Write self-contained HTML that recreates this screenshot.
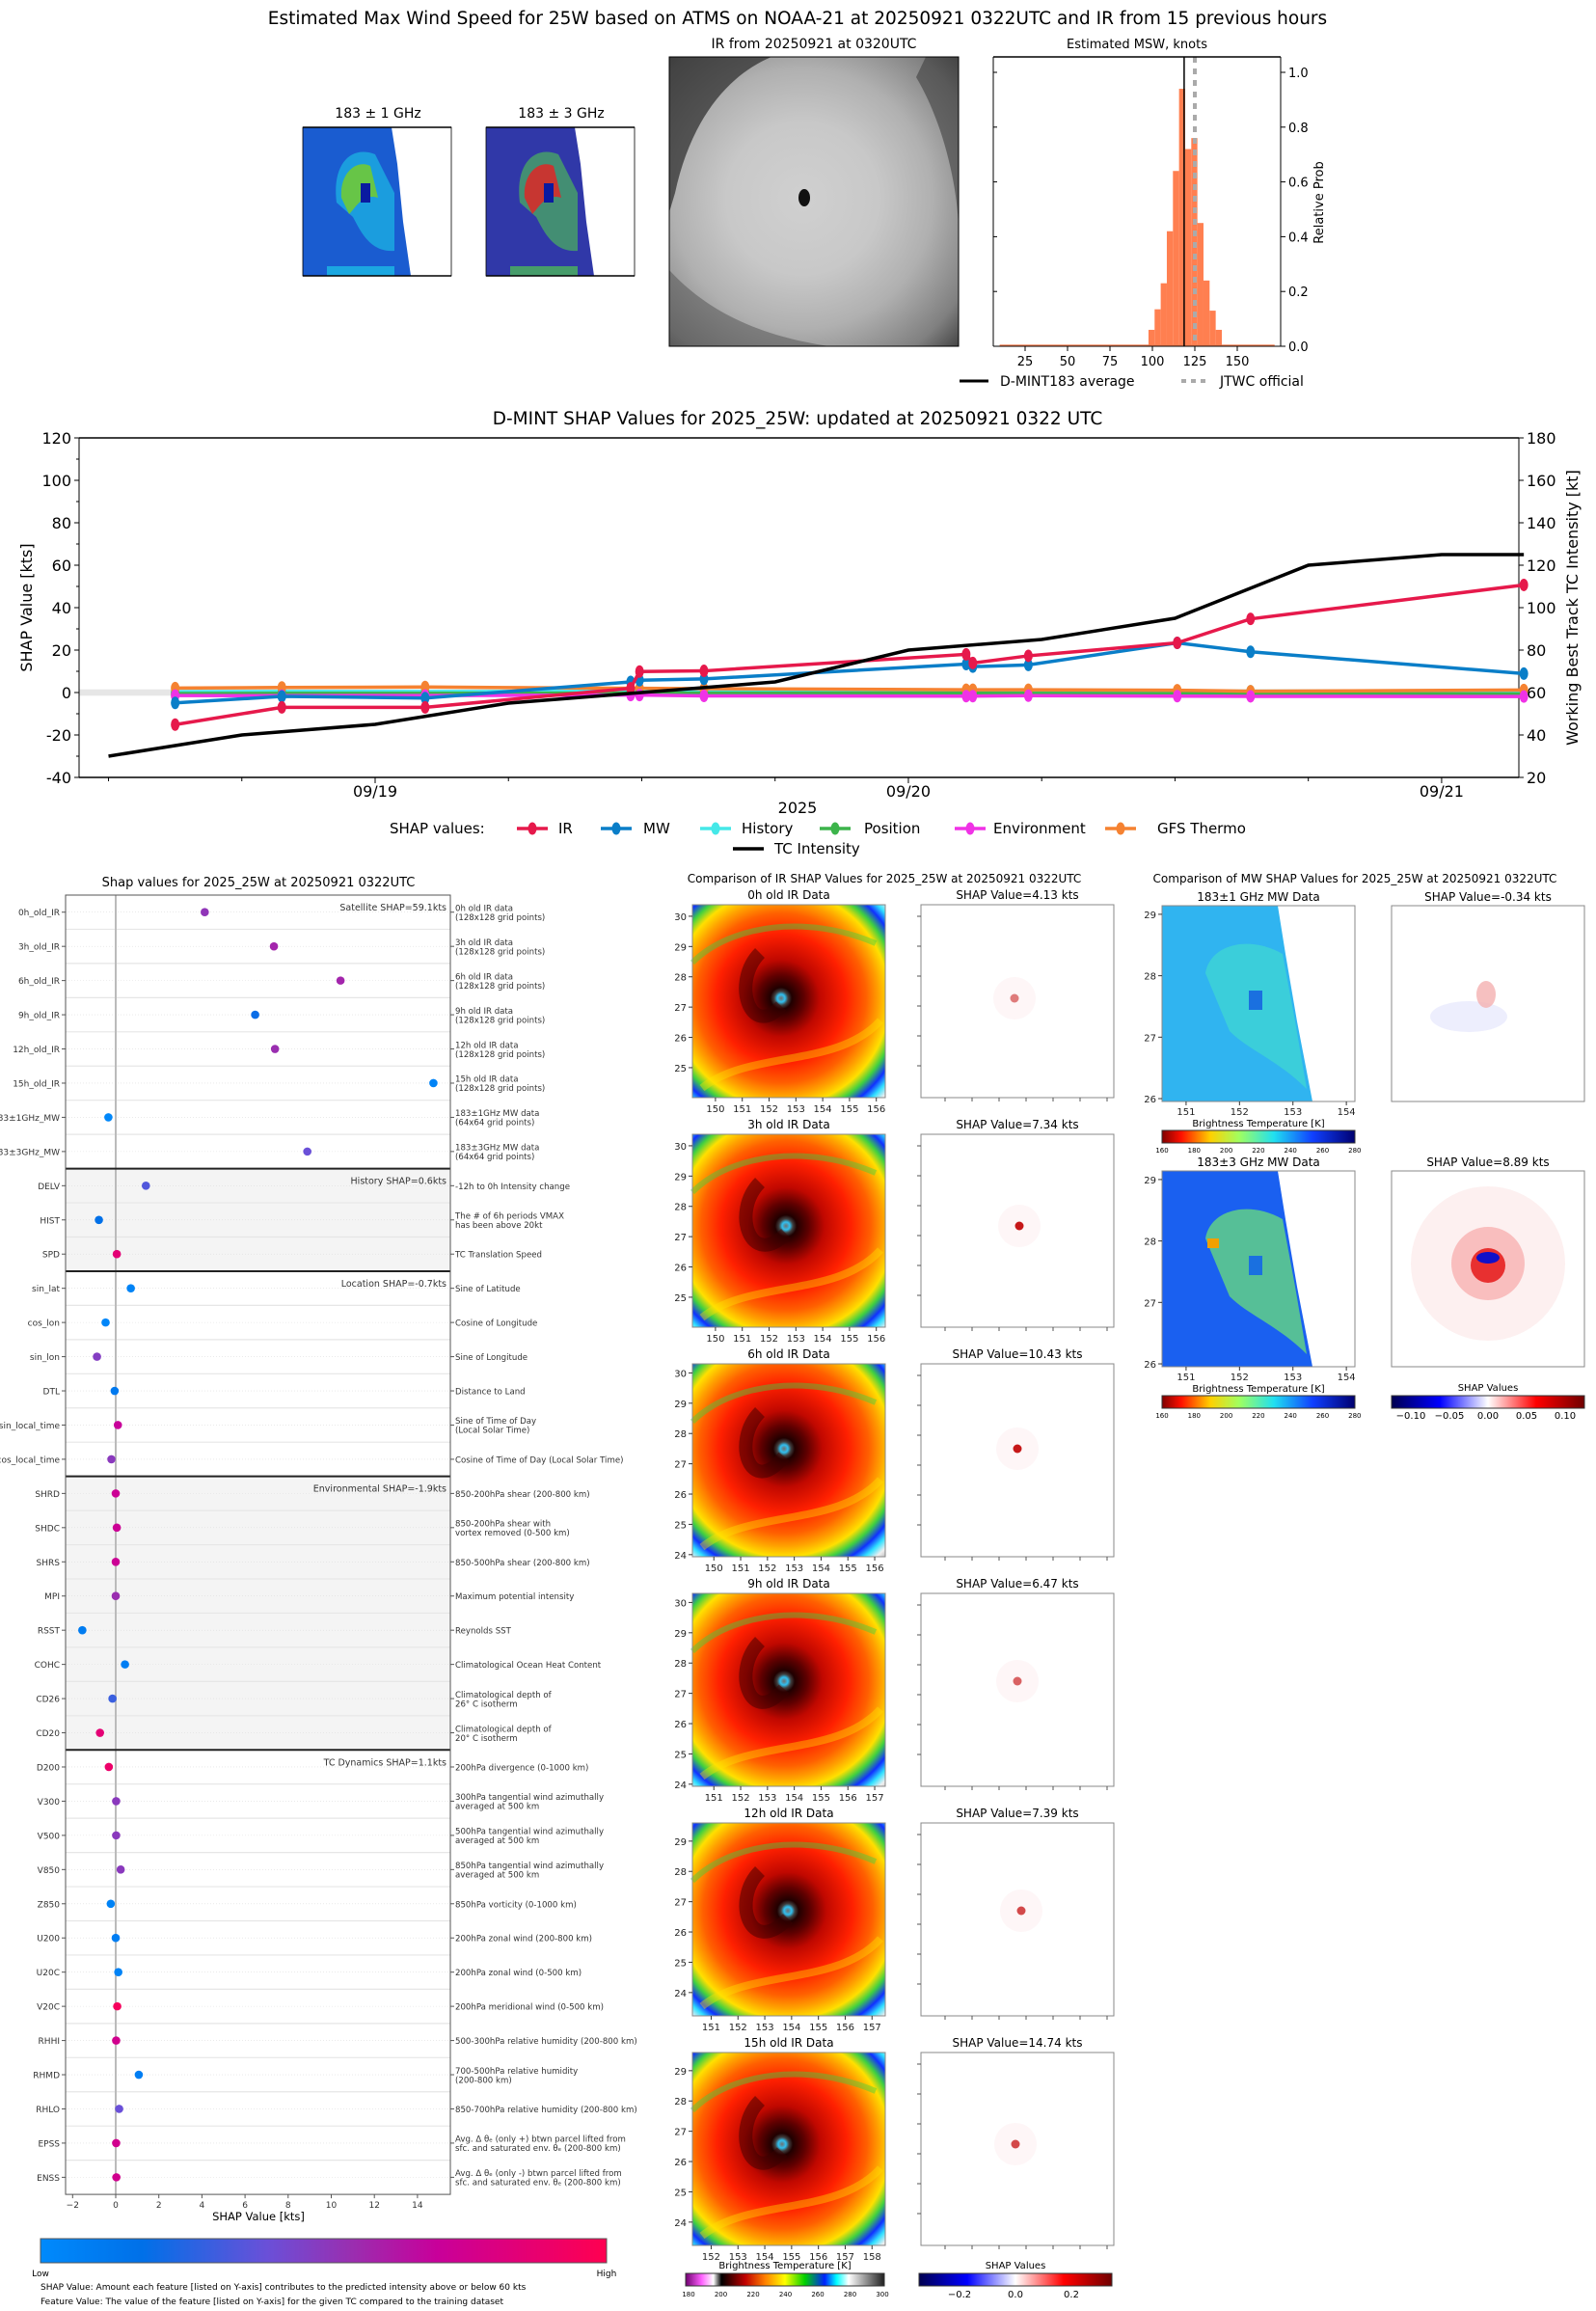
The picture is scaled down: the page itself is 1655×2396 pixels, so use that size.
<!DOCTYPE html>
<html><head><meta charset="utf-8">
<style>
html,body{margin:0;padding:0;background:#fff;}
svg{display:block;font-family:"DejaVu Sans","Liberation Sans",sans-serif;}
</style></head>
<body>
<svg id="fig" width="1655" height="2396" viewBox="0 0 1655 2396" xmlns="http://www.w3.org/2000/svg">
<defs>
<linearGradient id="cbShap" x1="0" x2="1" y1="0" y2="0">
<stop offset="0" stop-color="#008afc"/><stop offset="0.18" stop-color="#0070e8"/><stop offset="0.4" stop-color="#6a50d8"/><stop offset="0.55" stop-color="#9a2eb0"/><stop offset="0.7" stop-color="#c8009a"/><stop offset="1" stop-color="#ff0050"/>
</linearGradient>
<linearGradient id="cbTb" x1="0" x2="1" y1="0" y2="0">
<stop offset="0" stop-color="#800000"/><stop offset="0.1" stop-color="#ff1000"/><stop offset="0.25" stop-color="#ffd000"/><stop offset="0.4" stop-color="#a0ff60"/><stop offset="0.58" stop-color="#20e0f0"/><stop offset="0.78" stop-color="#1040ff"/><stop offset="1" stop-color="#000070"/>
</linearGradient>
<linearGradient id="cbBwr" x1="0" x2="1" y1="0" y2="0">
<stop offset="0" stop-color="#000050"/><stop offset="0.25" stop-color="#0000ff"/><stop offset="0.5" stop-color="#ffffff"/><stop offset="0.75" stop-color="#ff0000"/><stop offset="1" stop-color="#700000"/>
</linearGradient>
<linearGradient id="cbIr" x1="0" x2="1" y1="0" y2="0">
<stop offset="0" stop-color="#700070"/><stop offset="0.08" stop-color="#ff60ff"/><stop offset="0.14" stop-color="#ffffff"/><stop offset="0.18" stop-color="#000000"/><stop offset="0.3" stop-color="#c00000"/><stop offset="0.4" stop-color="#ff8000"/><stop offset="0.5" stop-color="#ffff00"/><stop offset="0.6" stop-color="#00d000"/><stop offset="0.7" stop-color="#0020ff"/><stop offset="0.76" stop-color="#00ffff"/><stop offset="0.82" stop-color="#ffffff"/><stop offset="1" stop-color="#202020"/>
</linearGradient>
<radialGradient id="grayIr" cx="0.46" cy="0.49" r="0.75">
<stop offset="0" stop-color="#d0d0d0"/><stop offset="0.35" stop-color="#c8c8c8"/><stop offset="0.6" stop-color="#b0b0b0"/><stop offset="0.85" stop-color="#808080"/><stop offset="1" stop-color="#404040"/>
</radialGradient>
</defs>
</svg>
<script>
// ---------- DATA ----------
const histCenters=[99.5,103.1,106.7,110.3,113.9,117.5,121.1,124.7,128.3,131.9,135.5,139.1];
const histProb=[0.06,0.135,0.23,0.42,0.64,0.94,0.72,0.76,0.45,0.24,0.13,0.06];
const dmintAvg=118.7;
const jtwcOfficial=125;

const shapHours=[-9.0,-4.2,2.25,11.5,11.9,14.8,26.6,26.9,29.4,36.1,39.4,51.7];
const irShap=[-15.1,-7,-7,2,9.9,10.2,18,13.9,17.3,23.4,34.7,50.7];
const mwShap=[-4.9,-1.8,-2.6,5,5.8,6.4,13.4,12.2,13,23.4,19.2,8.9];
const historyShap=[0.4,0.5,0.5,0.6,0.6,0.6,0.6,0.6,0.6,0.6,0.6,0.6];
const positionShap=[-0.5,-0.4,-0.4,-0.3,-0.3,-0.3,-0.3,-0.3,-0.4,-0.5,-0.6,-0.7];
const envShap=[-1.4,-1.5,-1.4,-1.2,-1.2,-1.6,-1.7,-1.7,-1.5,-1.7,-1.8,-1.9];
const gfsShap=[2.1,2.4,2.6,2.0,2.0,1.8,1.3,1.3,1.3,1.1,0.6,1.2];
const tcHours=[-12,-6,0,6,12,18,24,30,36,42,48,51.7];
const tcIntensity=[30,40,45,55,60,65,80,85,95,120,125,125];
const shapYTicks=[-40,-20,0,20,40,60,80,100,120];
const tcYTicks=[20,40,60,80,100,120,140,160,180];
const dateTickHours=[0,24,48];
const dateTickLabels=['09/19','09/20','09/21'];

const featNames=['0h_old_IR','3h_old_IR','6h_old_IR','9h_old_IR','12h_old_IR','15h_old_IR','183±1GHz_MW','183±3GHz_MW','DELV','HIST','SPD','sin_lat','cos_lon','sin_lon','DTL','sin_local_time','cos_local_time','SHRD','SHDC','SHRS','MPI','RSST','COHC','CD26','CD20','D200','V300','V500','V850','Z850','U200','U20C','V20C','RHHI','RHMD','RHLO','EPSS','ENSS'];
const featDesc=[['0h old IR data','(128x128 grid points)'],['3h old IR data','(128x128 grid points)'],['6h old IR data','(128x128 grid points)'],['9h old IR data','(128x128 grid points)'],['12h old IR data','(128x128 grid points)'],['15h old IR data','(128x128 grid points)'],['183±1GHz MW data','(64x64 grid points)'],['183±3GHz MW data','(64x64 grid points)'],['-12h to 0h Intensity change'],['The # of 6h periods VMAX','has been above 20kt'],['TC Translation Speed'],['Sine of Latitude'],['Cosine of Longitude'],['Sine of Longitude'],['Distance to Land'],['Sine of Time of Day','(Local Solar Time)'],['Cosine of Time of Day (Local Solar Time)'],['850-200hPa shear (200-800 km)'],['850-200hPa shear with','vortex removed (0-500 km)'],['850-500hPa shear (200-800 km)'],['Maximum potential intensity'],['Reynolds SST'],['Climatological Ocean Heat Content'],['Climatological depth of','26° C isotherm'],['Climatological depth of','20° C isotherm'],['200hPa divergence (0-1000 km)'],['300hPa tangential wind azimuthally','averaged at 500 km'],['500hPa tangential wind azimuthally','averaged at 500 km'],['850hPa tangential wind azimuthally','averaged at 500 km'],['850hPa vorticity (0-1000 km)'],['200hPa zonal wind (200-800 km)'],['200hPa zonal wind (0-500 km)'],['200hPa meridional wind (0-500 km)'],['500-300hPa relative humidity (200-800 km)'],['700-500hPa relative humidity','(200-800 km)'],['850-700hPa relative humidity (200-800 km)'],['Avg. Δ θₑ (only +) btwn parcel lifted from','sfc. and saturated env. θₑ (200-800 km)'],['Avg. Δ θₑ (only -) btwn parcel lifted from','sfc. and saturated env. θₑ (200-800 km)']];
const featShap=[4.13,7.34,10.43,6.47,7.39,14.74,-0.34,8.89,1.4,-0.78,0.05,0.7,-0.47,-0.87,-0.05,0.1,-0.2,0.0,0.05,0.0,0.0,-1.55,0.43,-0.15,-0.73,-0.32,0.02,0.02,0.23,-0.23,0.0,0.12,0.07,0.02,1.07,0.16,0.02,0.03];
const featLevel=[0.52,0.58,0.58,0.2,0.55,0.05,0.02,0.4,0.35,0.18,0.85,0.05,0.03,0.48,0.12,0.7,0.5,0.72,0.72,0.72,0.55,0.1,0.08,0.3,0.85,0.9,0.5,0.5,0.5,0.05,0.08,0.05,0.95,0.75,0.08,0.4,0.75,0.75];
const sectionStarts=[0,8,11,17,25];
const sectionLabels=['Satellite SHAP=59.1kts','History SHAP=0.6kts','Location SHAP=-0.7kts','Environmental SHAP=-1.9kts','TC Dynamics SHAP=1.1kts'];
const shapXTicks=[-2,0,2,4,6,8,10,12,14];

const irPanelTitles=['0h old IR Data','3h old IR Data','6h old IR Data','9h old IR Data','12h old IR Data','15h old IR Data'];
const irPanelShap=['4.13','7.34','10.43','6.47','7.39','14.74'];
const irLonLeft=[149.14,149.14,149.2,150.2,150.3,151.3];
const irLatTop=[30.38,30.38,30.3,30.3,29.6,29.6];
const irEyeX=[0.46,0.485,0.475,0.475,0.495,0.465];
const irEyeY=[0.485,0.475,0.44,0.455,0.455,0.475];
const irShapStrength=[0.5,0.9,0.9,0.6,0.7,0.7];

// ---------- HELPERS ----------
const NS='http://www.w3.org/2000/svg';
const svg=document.getElementById('fig');
function mk(tag,a,p){const e=document.createElementNS(NS,tag);for(const k in a)e.setAttribute(k,a[k]);(p||svg).appendChild(e);return e;}
function tx(s,x,y,size,anchor,p,fill){const e=mk('text',{x:x,y:y,'font-size':size,'text-anchor':anchor||'middle',fill:fill||'#000'},p);e.textContent=s;return e;}
function lerpColor(stops,t){t=Math.max(0,Math.min(1,t));for(let i=1;i<stops.length;i++){if(t<=stops[i][0]){const a=stops[i-1],b=stops[i];const f=(t-a[0])/(b[0]-a[0]||1);const c=[0,1,2].map(j=>Math.round(a[1][j]+(b[1][j]-a[1][j])*f));return 'rgb('+c.join(',')+')';}}return 'rgb('+stops[stops.length-1][1].join(',')+')';}
const shapCmap=[[0,[0,138,252]],[0.18,[0,112,232]],[0.4,[106,80,216]],[0.55,[154,46,176]],[0.7,[200,0,154]],[1,[255,0,80]]];

// ---------- TOP FIGURE ----------
let t=tx('Estimated Max Wind Speed for 25W based on ATMS on NOAA-21 at 20250921 0322UTC and IR from 15 previous hours',827,25,18.5);


function mwThumb(x0,name,base,arc,hot){
  const g=mk('g',{});
  
  
  mk('rect',{x:x0,y:132,width:154,height:154,fill:'#fff'},g);
  mk('polygon',{points:`${x0},132 ${x0+92},132 ${x0+98},170 ${x0+104},230 ${x0+112},286 ${x0},286`,fill:base},g);
  mk('path',{d:`M${x0+35},210 C${x0+30},170 ${x0+50},150 ${x0+75},160 L${x0+95},200 L${x0+95},260 C${x0+70},262 ${x0+60},240 ${x0+52},225 Z`,fill:arc,opacity:0.6},g);
  mk('path',{d:`M${x0+40},205 C${x0+38},180 ${x0+55},165 ${x0+70},172 L${x0+78},205 C${x0+62},200 ${x0+55},215 ${x0+48},222 Z`,fill:hot,opacity:0.8},g);
  mk('rect',{x:x0+60,y:190,width:10,height:20,fill:'#0a1aa0'},g);
  mk('rect',{x:x0+25,y:276,width:70,height:10,fill:arc,opacity:0.7},g);
  mk('line',{x1:x0,y1:132,x2:x0+154,y2:132,stroke:'#000','stroke-width':1.5},g);
  mk('line',{x1:x0,y1:286,x2:x0+154,y2:286,stroke:'#000','stroke-width':1.5},g);
  mk('rect',{x:x0,y:132,width:154,height:154,fill:'none',stroke:'#000','stroke-width':0.8},g);
}
t=tx('183 ± 1 GHz',392,122,14);
t=tx('183 ± 3 GHz',582,122,14);
mwThumb(314,'mw-183-1-thumbnail','#1a5cd0','#1cc8e8','#7ad020');
mwThumb(504,'mw-183-3-thumbnail','#3038a8','#50c850','#e82020');

t=tx('IR from 20250921 at 0320UTC',844,50,14);
let gIr=mk('g',{});


mk('rect',{x:694,y:59,width:300,height:300,fill:'url(#grayIr)'},gIr);
mk('path',{d:'M694,59 L800,59 C750,80 715,130 700,200 L694,220 Z',fill:'#2a2a2a',opacity:0.7},gIr);
mk('path',{d:'M950,80 C980,130 994,200 994,240 L994,59 L960,59 Z',fill:'#404040',opacity:0.6},gIr);
mk('path',{d:'M694,280 C740,330 800,350 860,359 L694,359 Z',fill:'#505050',opacity:0.5},gIr);
mk('ellipse',{cx:834,cy:205,rx:6,ry:9,fill:'#111'},gIr);
mk('rect',{x:694,y:59,width:300,height:300,fill:'none',stroke:'#000','stroke-width':1},gIr);

const hx0=1030,hx1=1328,hy0=59,hy1=359;
const hX=v=>1019+v*1.76, hY=p=>hy1-p*284;
t=tx('Estimated MSW, knots',1179,50,13);
let hg=mk('g',{});


let tail=mk('rect',{x:hX(10),y:hY(0.006),width:hX(172)-hX(10),height:hY(0)-hY(0.006),fill:'#ff7f50'},hg);

histCenters.forEach((c,i)=>{
  const b=mk('rect',{x:hX(c-1.8),y:hY(histProb[i]),width:hX(c+1.8)-hX(c-1.8),height:hY(0)-hY(histProb[i]),fill:'#ff7f50'},hg);
  
  
});
let avgL=mk('line',{x1:hX(dmintAvg),x2:hX(dmintAvg),y1:hy0,y2:hy1,stroke:'#000','stroke-width':1.5},hg);

let jL=mk('line',{x1:hX(jtwcOfficial),x2:hX(jtwcOfficial),y1:hy0,y2:hy1,stroke:'#aaa','stroke-width':4,'stroke-dasharray':'6,6'},hg);

mk('line',{x1:hx0,y1:hy0,x2:hx1,y2:hy0,stroke:'#000','stroke-width':1.5},hg);
mk('line',{x1:hx0,y1:hy1,x2:hx1,y2:hy1,stroke:'#000','stroke-width':1},hg);
mk('line',{x1:hx0,y1:hy0,x2:hx0,y2:hy1,stroke:'#000','stroke-width':1},hg);
mk('line',{x1:hx1,y1:hy0,x2:hx1,y2:hy1,stroke:'#000','stroke-width':1},hg);
[0,0.2,0.4,0.6,0.8,1.0].forEach(p=>{
  mk('line',{x1:hx1,x2:hx1+5,y1:hY(p),y2:hY(p),stroke:'#000'},hg);
  mk('line',{x1:hx0,x2:hx0+4,y1:hY(p),y2:hY(p),stroke:'#000'},hg);
  const l=tx(p.toFixed(1),hx1+8,hY(p)+5,13,'start',hg);
  
});
[25,50,75,100,125,150].forEach(v=>{
  mk('line',{x1:hX(v),x2:hX(v),y1:hy1,y2:hy1+5,stroke:'#000'},hg);
  const l=tx(String(v),hX(v),hy1+20,13,'middle',hg);
  
});
t=tx('Relative Prob',0,0,13,'middle',hg);t.setAttribute('transform','translate(1372,210) rotate(-90)');
let lg=mk('g',{});


mk('line',{x1:995,x2:1025,y1:395,y2:395,stroke:'#000','stroke-width':3},lg);
tx('D-MINT183 average',1037,400,14,'start',lg);
mk('line',{x1:1225,x2:1255,y1:395,y2:395,stroke:'#aaa','stroke-width':4,'stroke-dasharray':'5,5'},lg);
tx('JTWC official',1265,400,14,'start',lg);

// ---------- SHAP TIME SERIES ----------
const mx0=82,mx1=1575,my0=454,my1=806;
const mX=h=>389+h*23.04;
const mY=v=>my1-(v+40)*(my1-my0)/160;
const mYr=v=>mY(v-60);
t=tx('D-MINT SHAP Values for 2025_25W: updated at 20250921 0322 UTC',827,440,18.5);

let mg=mk('g',{});


let band=mk('rect',{x:mx0,y:mY(1.5),width:mx1-mx0,height:mY(-1.5)-mY(1.5),fill:'#e6e6e6'},mg);

mk('line',{x1:mx0,y1:my0,x2:mx1,y2:my0,stroke:'#000','stroke-width':1.5},mg);
mk('line',{x1:mx0,y1:my1,x2:mx1,y2:my1,stroke:'#000','stroke-width':1.5},mg);
mk('line',{x1:mx0,y1:my0,x2:mx0,y2:my1,stroke:'#000','stroke-width':1},mg);
mk('line',{x1:mx1,y1:my0,x2:mx1,y2:my1,stroke:'#000','stroke-width':1},mg);
shapYTicks.forEach(v=>{
  mk('line',{x1:mx0-5,x2:mx0,y1:mY(v),y2:mY(v),stroke:'#000'},mg);
  const l=tx(String(v),mx0-8,mY(v)+6,16,'end',mg);
  
});
for(let v=-30;v<=110;v+=20){mk('line',{x1:mx0-3,x2:mx0,y1:mY(v),y2:mY(v),stroke:'#000'},mg);}
tcYTicks.forEach(v=>{
  mk('line',{x1:mx1,x2:mx1+5,y1:mYr(v),y2:mYr(v),stroke:'#000'},mg);
  const l=tx(String(v),mx1+8,mYr(v)+6,16,'start',mg);
  
});
for(let h=-12;h<=48;h+=6){mk('line',{x1:mX(h),x2:mX(h),y1:my1,y2:my1+(h%24===0?6:4),stroke:'#000'},mg);}
dateTickHours.forEach((h,i)=>{
  const l=tx(dateTickLabels[i],mX(h),my1+20,16,'middle',mg);
  
});
t=tx('2025',827,843,16,'middle',mg);
t=tx('SHAP Value [kts]',0,0,16,'middle',mg);t.setAttribute('transform','translate(33,630) rotate(-90)');
t=tx('Working Best Track TC Intensity [kt]',0,0,16,'middle',mg);t.setAttribute('transform','translate(1636,630) rotate(-90)');

const seriesList=[
  ['history-series',historyShap,'#45e8e8'],
  ['position-series',positionShap,'#3cb44b'],
  ['gfs-thermo-series',gfsShap,'#f58231'],
  ['environment-series',envShap,'#f032e6'],
  ['mw-series',mwShap,'#0a7ec8'],
  ['ir-series',irShap,'#e6194b']
];
seriesList.forEach(s=>{
  const sg=mk('g',{},mg);
  
  
  const pts=shapHours.map((h,i)=>mX(h)+','+mY(s[1][i])).join(' ');
  mk('polyline',{points:pts,fill:'none',stroke:s[2],'stroke-width':3.5},sg);
  shapHours.forEach((h,i)=>{
    const m=mk('ellipse',{cx:mX(h),cy:mY(s[1][i]),rx:4.5,ry:6.5,fill:s[2]},sg);
    
    
  });
});
let tcl=mk('polyline',{points:tcHours.map((h,i)=>mX(h)+','+mYr(tcIntensity[i])).join(' '),fill:'none',stroke:'#000','stroke-width':3.5},mg);



let leg=mk('g',{});


const ly1=859, ly2=880;
tx('SHAP values:',404,ly1+5,15,'start',leg);
const legItems=[['IR','#e6194b',552,579],['MW','#0a7ec8',639,667],['History','#45e8e8',742,769],['Position','#3cb44b',866,896],['Environment','#f032e6',1006,1030],['GFS Thermo','#f58231',1162,1200]];
legItems.forEach(it=>{
  const e=mk('g',{},leg);
  
  
  mk('line',{x1:it[2]-16,x2:it[2]+16,y1:ly1,y2:ly1,stroke:it[1],'stroke-width':3.5},e);
  mk('ellipse',{cx:it[2],cy:ly1,rx:4.5,ry:6.5,fill:it[1]},e);
  tx(it[0],it[3],ly1+5,15,'start',e);
});
mk('line',{x1:760,x2:792,y1:ly2,y2:ly2,stroke:'#000','stroke-width':3.5},leg);
tx('TC Intensity',803,ly2+5,15,'start',leg);

// ---------- FEATURE SHAP PLOT ----------
const fx0=68,fx1=467,fy0=928,rowH=35.45;
const fX=v=>120+v*22.35;
const fRow=i=>fy0+rowH*(i+0.5);
const fy1=fy0+rowH*featNames.length;
t=tx('Shap values for 2025_25W at 20250921 0322UTC',268,919,13);

let fg=mk('g',{});


[[8,11],[17,25]].forEach(r=>{
  mk('rect',{x:fx0,y:fy0+r[0]*rowH,width:fx1-fx0,height:(r[1]-r[0])*rowH,fill:'#f4f4f4'},fg);
});
for(let i=1;i<featNames.length;i++){mk('line',{x1:fx0,x2:fx1,y1:fy0+i*rowH,y2:fy0+i*rowH,stroke:'#e6e6e6','stroke-width':1.2},fg);}
featNames.forEach((n,i)=>{mk('line',{x1:fx0,x2:fx1,y1:fRow(i),y2:fRow(i),stroke:'#ddd','stroke-width':0.6,'stroke-dasharray':'1,2'},fg);});
mk('line',{x1:fX(0),x2:fX(0),y1:fy0,y2:fy1,stroke:'#bbb','stroke-width':2},fg);
sectionStarts.forEach((s,k)=>{
  if(s>0)mk('line',{x1:fx0,x2:fx1,y1:fy0+s*rowH,y2:fy0+s*rowH,stroke:'#222','stroke-width':2},fg);
  const l=tx(sectionLabels[k],fx1-4,fy0+s*rowH+16,9.5,'end',fg,'#333');
  
});
mk('rect',{x:fx0,y:fy0,width:fx1-fx0,height:fy1-fy0,fill:'none',stroke:'#555','stroke-width':1},fg);
featNames.forEach((n,i)=>{
  mk('line',{x1:fx0-4,x2:fx0,y1:fRow(i),y2:fRow(i),stroke:'#555'},fg);
  mk('line',{x1:fx1,x2:fx1+4,y1:fRow(i),y2:fRow(i),stroke:'#555'},fg);
  const l=tx(n,fx0-6,fRow(i)+3.5,9,'end',fg,'#333');
  
  const d=featDesc[i];
  d.forEach((line,j)=>{
    const dl=tx(line,fx1+5,fRow(i)+3.5+(d.length>1?(j-0.5)*9.5:0),8.6,'start',fg,'#333');
    
  });
  const c=mk('circle',{cx:fX(featShap[i]),cy:fRow(i),r:4.3,fill:lerpColor(shapCmap,featLevel[i])},fg);
  
  
});
shapXTicks.forEach(v=>{
  mk('line',{x1:fX(v),x2:fX(v),y1:fy1,y2:fy1+4,stroke:'#555'},fg);
  const l=tx(v<0?'−'+Math.abs(v):String(v),fX(v),fy1+14,9,'middle',fg,'#333');
  
});
t=tx('SHAP Value [kts]',268,fy1+27,11.5,'middle',fg);
let cb=mk('rect',{x:42,y:2321,width:587,height:25,fill:'url(#cbShap)',stroke:'#555'});


t=tx('Low',42,2360,9,'middle');
t=tx('High',629,2360,9,'middle');
t=tx('SHAP Value: Amount each feature [listed on Y-axis] contributes to the predicted intensity above or below 60 kts',42,2374,9,'start');
t=tx('Feature Value: The value of the feature [listed on Y-axis] for the given TC compared to the training dataset',42,2389,9,'start');

// ---------- IR COMPARISON PANELS ----------
t=tx('Comparison of IR SHAP Values for 2025_25W at 20250921 0322UTC',917,915,12);

const irRing=[[0,'#707070'],[0.025,'#30c0f0'],[0.045,'#404040'],[0.07,'#200000'],[0.15,'#600000'],[0.25,'#c00800'],[0.42,'#ff2000'],[0.55,'#ff6000'],[0.63,'#ffa000'],[0.7,'#ffe000'],[0.76,'#40d040'],[0.82,'#1030ff'],[0.87,'#30e0ff'],[0.92,'#f0f0f0'],[1,'#909090']];
irPanelTitles.forEach((title,k)=>{
  const py=938+k*238, px=718, sx=955;
  const g=mk('g',{});
  
  
  const gid='irg'+k;
  const rg=mk('radialGradient',{id:gid,cx:irEyeX[k],cy:irEyeY[k],r:0.8},svg.querySelector('defs'));
  irRing.forEach(s=>mk('stop',{offset:s[0],'stop-color':s[1]},rg));
  mk('rect',{x:px,y:py,width:200,height:200,fill:'url(#'+gid+')'},g);
  mk('path',{d:`M${px+irEyeX[k]*200},${py+irEyeY[k]*200+8} C${px+60},${py+140} ${px+40},${py+80} ${px+70},${py+50}`,fill:'none',stroke:'#3a0000','stroke-width':14,opacity:0.5},g);
  mk('path',{d:`M${px},${py+60} C${px+40},${py+20} ${px+120},${py+10} ${px+190},${py+40}`,fill:'none',stroke:'#40d040','stroke-width':6,opacity:0.45},g);
  mk('path',{d:`M${px+10},${py+190} C${px+60},${py+150} ${px+150},${py+170} ${px+195},${py+120}`,fill:'none',stroke:'#ffe000','stroke-width':8,opacity:0.4},g);
  mk('rect',{x:px,y:py,width:200,height:200,fill:'none',stroke:'#888'},g);
  const tl=tx(title,px+100,py-6,12,'middle',g);
  
  for(let lon=Math.ceil(irLonLeft[k]);lon<=irLonLeft[k]+200/27.8;lon++){
    const x=px+(lon-irLonLeft[k])*27.8;
    mk('line',{x1:x,x2:x,y1:py+200,y2:py+204,stroke:'#333'},g);
    const l=tx(String(lon),x,py+215,10,'middle',g,'#222');
    
  }
  for(let lat=Math.ceil(irLatTop[k]-200/31.4);lat<=irLatTop[k];lat++){
    const y=py+(irLatTop[k]-lat)*31.4;
    mk('line',{x1:px-4,x2:px,y1:y,y2:y,stroke:'#333'},g);
    const l=tx(String(lat),px-6,y+4,10,'end',g,'#222');
    
  }
  const sg=mk('g',{});
  
  
  mk('rect',{x:sx,y:py,width:200,height:200,fill:'#fff',stroke:'#888'},sg);
  mk('circle',{cx:sx+irEyeX[k]*200+5,cy:py+irEyeY[k]*200,r:22,fill:'#fdf0f2',opacity:0.6},sg);
  mk('circle',{cx:sx+irEyeX[k]*200+5,cy:py+irEyeY[k]*200,r:4.5,fill:'#c00000',opacity:irShapStrength[k]},sg);
  const st=tx('SHAP Value='+irPanelShap[k]+' kts',sx+100,py-6,12,'middle',sg);
  
  for(let j=0;j<7;j++){mk('line',{x1:sx+25+j*28,x2:sx+25+j*28,y1:py+200,y2:py+204,stroke:'#555'},sg);}
  for(let j=0;j<6;j++){mk('line',{x1:sx-4,x2:sx,y1:py+12+j*31,y2:py+12+j*31,stroke:'#555'},sg);}
});
let ircb=mk('rect',{x:711,y:2357,width:206,height:13,fill:'url(#cbIr)',stroke:'#333'});


t=tx('Brightness Temperature [K]',814,2352,10);
[180,200,220,240,260,280,300].forEach((v,i)=>{const l=tx(String(v),714+i*33.5,2381,7);});
let sccb=mk('rect',{x:953,y:2357,width:200,height:13,fill:'url(#cbBwr)',stroke:'#333'});


t=tx('SHAP Values',1053,2352,10);
[['−0.2',995],['0.0',1053],['0.2',1111]].forEach(a=>{const l=tx(a[0],a[1],2382,10);});

// ---------- MW COMPARISON PANELS ----------
t=tx('Comparison of MW SHAP Values for 2025_25W at 20250921 0322UTC',1405,915,12);

const mwTitles=['183±1 GHz MW Data','183±3 GHz MW Data'];
const mwShapTitles=['-0.34','8.89'];
const mwBase=['#30b4f0','#1a60f0'];
const mwArc=['#40d8d0','#70e870'];
[939,1214].forEach((py,k)=>{
  const px=1205,sx=1443;
  const g=mk('g',{});
  
  
  mk('rect',{x:px,y:py,width:200,height:203,fill:'#fff'},g);
  mk('polygon',{points:`${px},${py} ${px+120},${py} ${px+128},${py+50} ${px+140},${py+120} ${px+156},${py+203} ${px},${py+203}`,fill:mwBase[k]},g);
  mk('path',{d:`M${px+45},${py+70} C${px+50},${py+40} ${px+90},${py+30} ${px+125},${py+50} L${px+138},${py+120} L${px+150},${py+190} C${px+120},${py+160} ${px+90},${py+150} ${px+70},${py+130} Z`,fill:mwArc[k],opacity:0.7},g);
  mk('rect',{x:px+90,y:py+88,width:14,height:20,fill:'#1a70e0'},g);
  if(k===1)mk('rect',{x:px+47,y:py+70,width:12,height:10,fill:'#f0a000'},g);
  mk('rect',{x:px,y:py,width:200,height:203,fill:'none',stroke:'#888'},g);
  const tl=tx(mwTitles[k],px+100,py-5,12,'middle',g);
  
  for(let lon=151;lon<=154;lon++){
    const x=px+(lon-150.55)*55.4;
    mk('line',{x1:x,x2:x,y1:py+203,y2:py+207,stroke:'#333'},g);
    const l=tx(String(lon),x,py+217,10,'middle',g,'#222');
    
  }
  for(let lat=26;lat<=29;lat++){
    const y=py+(29.14-lat)*63.7;
    mk('line',{x1:px-4,x2:px,y1:y,y2:y,stroke:'#333'},g);
    const l=tx(String(lat),px-6,y+4,10,'end',g,'#222');
    
  }
  const cbr=mk('rect',{x:px,y:py+233,width:200,height:13,fill:'url(#cbTb)',stroke:'#333'},g);
  
  tx('Brightness Temperature [K]',px+100,py+229,10,'middle',g);
  [160,180,200,220,240,260,280].forEach((v,i)=>{const l=tx(String(v),px+i*33.3,py+256,7,'middle',g);});
  const sg=mk('g',{});
  
  
  mk('rect',{x:sx,y:py,width:200,height:203,fill:'#fff',stroke:'#888'},sg);
  if(k===0){
    mk('ellipse',{cx:sx+80,cy:py+115,rx:40,ry:16,fill:'#e8eafc',opacity:0.8},sg);
    mk('ellipse',{cx:sx+98,cy:py+92,rx:10,ry:14,fill:'#f4b0b0',opacity:0.8},sg);
  } else {
    mk('circle',{cx:sx+100,cy:py+96,r:80,fill:'#fdeeee',opacity:0.9},sg);
    mk('circle',{cx:sx+100,cy:py+96,r:38,fill:'#f8b8b8',opacity:0.9},sg);
    mk('circle',{cx:sx+100,cy:py+98,r:18,fill:'#e83030'},sg);
    mk('ellipse',{cx:sx+100,cy:py+90,rx:12,ry:6,fill:'#1010c8'},sg);
  }
  const st=tx('SHAP Value='+mwShapTitles[k]+' kts',sx+100,py-5,12,'middle',sg);
  
});
let mcb=mk('rect',{x:1443,y:1447,width:200,height:13,fill:'url(#cbBwr)',stroke:'#333'});


t=tx('SHAP Values',1543,1442,10);
[['−0.10',1463],['−0.05',1503],['0.00',1543],['0.05',1583],['0.10',1623]].forEach(a=>{const l=tx(a[0],a[1],1471,10);});
</script>
</body></html>
